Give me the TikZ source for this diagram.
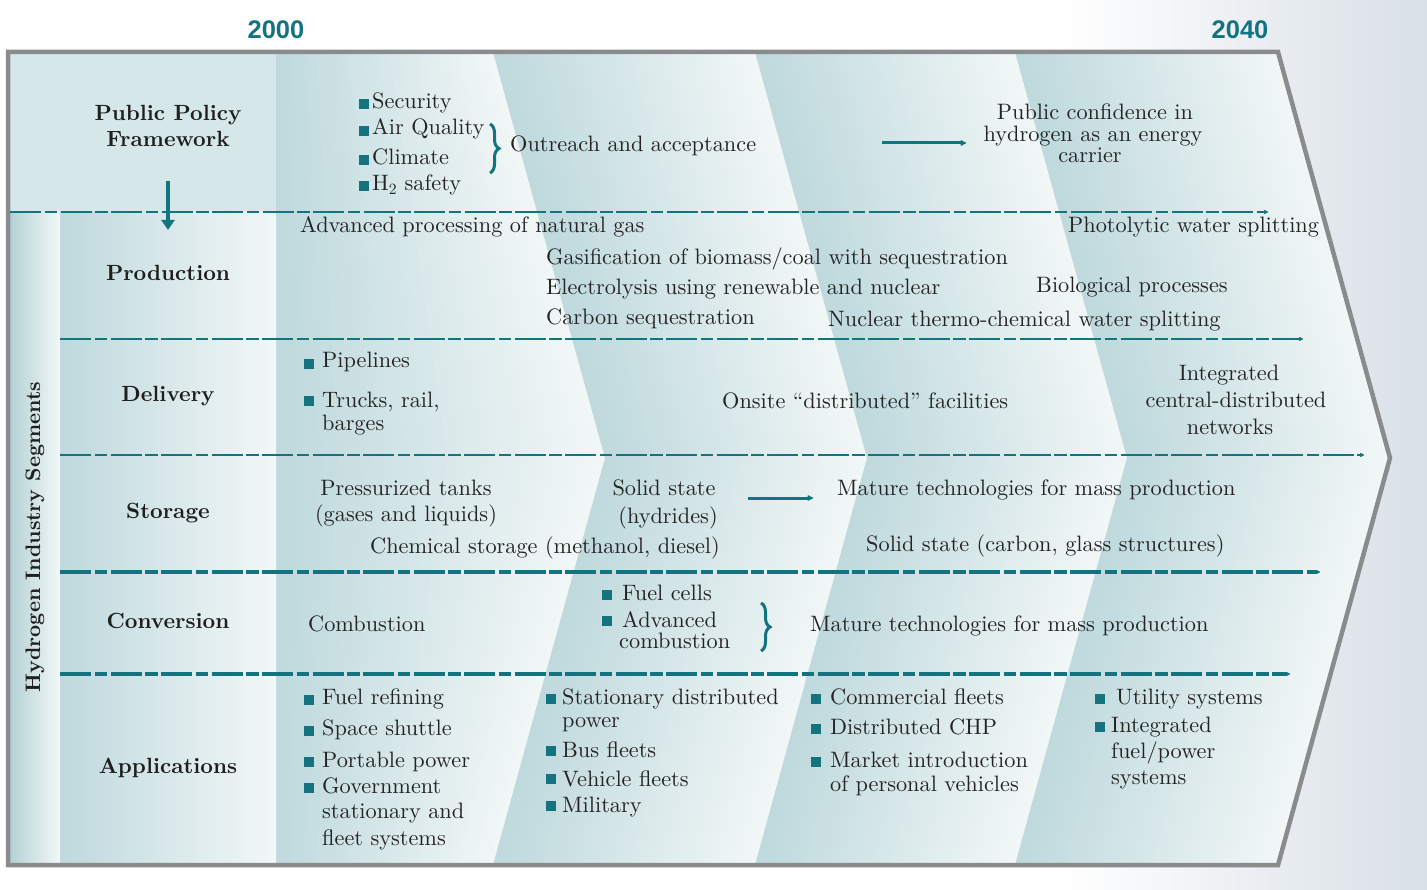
\documentclass[tikz,border=0pt]{standalone}
\usepackage{fontspec}
\newfontfamily\yearfont{Liberation Sans}
\newfontfamily\lmten{lmroman10-regular.otf}[BoldFont=lmroman10-bold.otf, Ligatures=TeX]
\usetikzlibrary{arrows.meta,decorations.pathreplacing}

\definecolor{tealc}{HTML}{137480}
\definecolor{txtc}{HTML}{242424}
\definecolor{banddark}{HTML}{BFD9DD}
\definecolor{bandlight}{HTML}{F2F7F7}
\definecolor{cellfill}{HTML}{D5E7E8}
\definecolor{stripdark}{HTML}{B3D0D4}
\definecolor{framegray}{HTML}{8A8B8D}
\definecolor{bgright}{HTML}{D9E0E7}

\begin{document}
\begin{tikzpicture}[x=1pt,y=-1pt,
  body/.style={font=\lmten\fontsize{22.3}{24}\selectfont, text=txtc, inner sep=0pt,
               text height=15pt, text depth=5pt},
  lbody/.style={body, anchor=west},
  rowlabel/.style={font=\lmten\fontsize{22}{24}\selectfont\bfseries, text=black!88, inner sep=0pt,
               text height=15pt, text depth=5pt},
  year/.style={font=\yearfont\fontsize{25.5}{27}\selectfont\bfseries, text=tealc, inner sep=0pt},
  bullet/.style={fill=tealc, inner sep=0pt, minimum size=10pt},
  rowline/.style={tealc, line width=2.2pt, dash pattern=on 31pt off 3.5pt on 12.5pt off 3.5pt,
                  -{Latex[length=5pt,width=5pt,round]}},
  rowlinethick/.style={rowline, line width=3.2pt},
  solidarrow/.style={tealc, line width=3pt, -{Latex[length=7pt,width=7pt,round]}},
  bracec/.style={tealc, line width=3pt, decorate, decoration={brace, amplitude=9pt}}
]
\useasboundingbox (0,0) rectangle (1427,890);

% page background, fading to blue-grey on the right
\fill[white] (0,0) rectangle (1427,890);
\shade[left color=white, right color=bgright] (1060,0) rectangle (1427,890);

% chevron time bands, each shaded dark-to-light along its slanted edges
\foreach \lt/\la/\rt/\ra in {276/276/493/605, 493/605/755/867, 755/867/1015/1127, 1015/1127/1278/1390} {
  \foreach \i in {0,...,47} {
    \pgfmathsetmacro\t{\i/48}
    \pgfmathsetmacro\xa{\lt+\t*(\rt-\lt)}
    \pgfmathsetmacro\xb{\la+\t*(\ra-\la)}
    \pgfmathsetmacro\pc{100*\t}
    \fill[bandlight!\pc!banddark] (\xa,52) -- (\xb,458) -- (\xa,865) -- (\rt,865) -- (\ra,458) -- (\rt,52) -- cycle;
  }
}

% left-hand label areas
\fill[cellfill] (8,52) rectangle (276,212);
\shade[left color=stripdark, right color=bandlight] (8,212) rectangle (60,865);
\shade[left color=banddark, right color=bandlight] (60,212) rectangle (276,865);

% outer chevron frame
\draw[framegray, line width=4.5pt, line join=miter]
  (8,52) -- (1278,52) -- (1390,458) -- (1278,865) -- (8,865) -- cycle;

% years
\node[year] (y2000) at (276,30) {2000};
\node[year] (y2040) at (1240,30) {2040};

% row separators
\coordinate (s1a) at (10,212);   \coordinate (s1b) at (1268,212);
\coordinate (s2a) at (60,339);   \coordinate (s2b) at (1303,339);
\coordinate (s3a) at (60,455);   \coordinate (s3b) at (1364,455);
\coordinate (s4a) at (60,572);   \coordinate (s4b) at (1320,572);
\coordinate (s5a) at (60,674);   \coordinate (s5b) at (1290,674);
\draw[rowline] (s1a) -- (s1b);
\draw[rowline] (s2a) -- (s2b);
\draw[rowline] (s3a) -- (s3b);
\draw[rowlinethick] (s4a) -- (s4b);
\draw[rowlinethick] (s5a) -- (s5b);

% row labels
\node[rowlabel] (pp1) at (168,116) {Public Policy};
\node[rowlabel] (pp2) at (168,142) {Framework};
\node[rowlabel] (prod) at (168,276) {Production};
\node[rowlabel] (deliv) at (168,397) {Delivery};
\node[rowlabel] (stor) at (168,513) {Storage};
\node[rowlabel] (conv) at (168,623) {Conversion};
\node[rowlabel] (appl) at (168,768) {Applications};
\node[rowlabel, font=\lmten\fontsize{21}{23}\selectfont\bfseries, rotate=90] (segs) at (35,537) {Hydrogen Industry Segments};

\coordinate (da) at (168,181);
\coordinate (db) at (168,230);
\draw[tealc, line width=4pt, -{Triangle[length=10pt,width=13pt]}] (da) -- (db);

% public policy row
\node[bullet] (bp1) at (364,104) {};
\node[bullet] (bp2) at (364,131) {};
\node[bullet] (bp3) at (364,160) {};
\node[bullet] (bp4) at (364,186) {};
\node[lbody] (tsec) at (372,104) {Security};
\node[lbody] (taq) at (372,130) {Air Quality};
\node[lbody] (tcl) at (372,160) {Climate};
\node[lbody] (th2) at (372,186) {H\textsubscript{2} safety};
\coordinate (br1a) at (490,124);
\coordinate (br1b) at (490,173);
\draw[bracec] (br1a) -- (br1b);
\node[lbody] (tout) at (510,147) {Outreach and acceptance};
\coordinate (pa1) at (882,143);
\coordinate (pa2) at (966,143);
\draw[solidarrow] (pa1) -- (pa2);
\node[body] (tpc1) at (1095,115) {Public confidence in};
\node[body] (tpc2) at (1093,137) {hydrogen as an energy};
\node[body] (tpc3) at (1090,158) {carrier};

% production row
\node[lbody] (pr1) at (300,228) {Advanced processing of natural gas};
\node[lbody] (pr2) at (1068,228) {Photolytic water splitting};
\node[lbody] (pr3) at (546,260) {Gasification of biomass/coal with sequestration};
\node[lbody] (pr4) at (546,290) {Electrolysis using renewable and nuclear};
\node[lbody] (pr5) at (1036,288) {Biological processes};
\node[lbody] (pr6) at (546,320) {Carbon sequestration};
\node[lbody] (pr7) at (828,322) {Nuclear thermo-chemical water splitting};

% delivery row
\node[bullet] (bd1) at (309,364) {};
\node[bullet] (bd2) at (309,401) {};
\node[lbody] (de1) at (322,363) {Pipelines};
\node[lbody] (de2) at (322,402) {Trucks, rail,};
\node[lbody] (de3) at (322,426) {barges};
\node[lbody] (de4) at (722,404) {Onsite ``distributed'' facilities};
\node[body] (de5) at (1229,376) {Integrated};
\node[body] (de6) at (1236,403) {central-distributed};
\node[body] (de7) at (1230,430) {networks};

% storage row
\node[body] (st1) at (406,490) {Pressurized tanks};
\node[body] (st2) at (406,516) {(gases and liquids)};
\node[body] (st3) at (664,490) {Solid state};
\node[body] (st4) at (668,518) {(hydrides)};
\node[lbody] (st5) at (370,548) {Chemical storage (methanol, diesel)};
\coordinate (sa1) at (748,498);
\coordinate (sa2) at (813,498);
\draw[solidarrow] (sa1) -- (sa2);
\node[lbody] (st6) at (837,490) {Mature technologies for mass production};
\node[lbody] (st7) at (866,546) {Solid state (carbon, glass structures)};

% conversion row
\node[lbody] (cv1) at (308,626) {Combustion};
\node[bullet] (bc1) at (607,595) {};
\node[bullet] (bc2) at (607,621) {};
\node[lbody] (cv2) at (622,595) {Fuel cells};
\node[lbody] (cv3) at (622,622) {Advanced};
\node[lbody] (cv4) at (619,643) {combustion};
\coordinate (br2a) at (761,603);
\coordinate (br2b) at (761,651);
\draw[bracec] (br2a) -- (br2b);
\node[lbody] (cv5) at (810,626) {Mature technologies for mass production};

% applications row
\node[bullet] (ba1) at (309,700) {};
\node[bullet] (ba2) at (309,731) {};
\node[bullet] (ba3) at (309,762) {};
\node[bullet] (ba4) at (309,788) {};
\node[lbody] (ap1) at (322,699) {Fuel refining};
\node[lbody] (ap2) at (322,730) {Space shuttle};
\node[lbody] (ap3) at (322,762) {Portable power};
\node[lbody] (ap4) at (322,788) {Government};
\node[lbody] (ap5) at (322,813) {stationary and};
\node[lbody] (ap6) at (322,840) {fleet systems};

\node[bullet] (bb1) at (551,699) {};
\node[bullet] (bb2) at (551,751) {};
\node[bullet] (bb3) at (551,779) {};
\node[bullet] (bb4) at (551,806) {};
\node[lbody] (aq1) at (562,699) {Stationary distributed};
\node[lbody] (aq2) at (562,722) {power};
\node[lbody] (aq3) at (562,752) {Bus fleets};
\node[lbody] (aq4) at (562,781) {Vehicle fleets};
\node[lbody] (aq5) at (562,807) {Military};

\node[bullet] (bcc1) at (816,699) {};
\node[bullet] (bcc2) at (816,729) {};
\node[bullet] (bcc3) at (816,762) {};
\node[lbody] (ar1) at (830,699) {Commercial fleets};
\node[lbody] (ar2) at (830,729) {Distributed CHP};
\node[lbody] (ar3) at (830,762) {Market introduction};
\node[lbody] (ar4) at (830,786) {of personal vehicles};

\node[bullet] (bdd1) at (1100,699) {};
\node[bullet] (bdd2) at (1100,727) {};
\node[lbody] (as1) at (1116,699) {Utility systems};
\node[lbody] (as2) at (1111,727) {Integrated};
\node[lbody] (as3) at (1111,753) {fuel/power};
\node[lbody] (as4) at (1111,779) {systems};
\end{tikzpicture}
\end{document}
